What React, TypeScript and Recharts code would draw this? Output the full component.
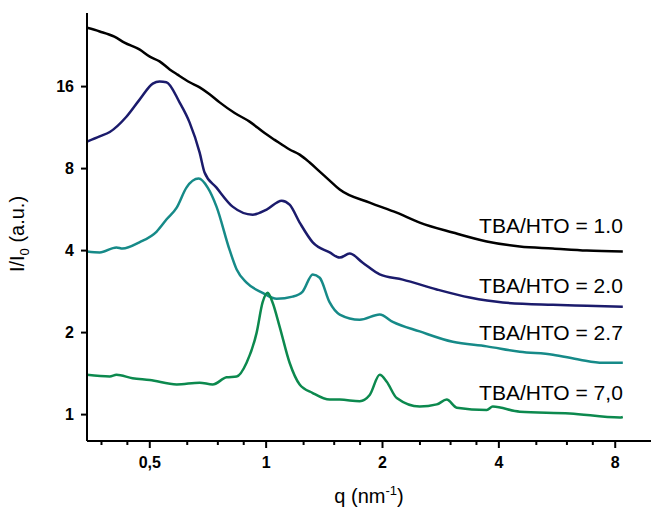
import { LineChart, Line, XAxis, YAxis, ReferenceDot } from 'recharts';

// SAXS curves, log2 / log2 axes
const seriesNames = ['TBA/HTO = 1.0', 'TBA/HTO = 2.0', 'TBA/HTO = 2.7', 'TBA/HTO = 7,0'];
const seriesColors = ['#000000', '#1b1b6c', '#168a88', '#0c894e'];

const q10 = [0.344, 0.371, 0.405, 0.43, 0.47, 0.5, 0.53, 0.563, 0.59, 0.634, 0.673, 0.714, 0.758, 0.829, 0.906, 0.991, 1.052, 1.15, 1.221, 1.296, 1.376, 1.46, 1.55, 1.853, 2.177, 2.496, 3.039, 3.722, 4.532, 5.517, 6.756, 8.37];
const i10 = [26.3, 25.5, 24.4, 23.2, 21.9, 20.6, 19.8, 18.5, 17.7, 16.6, 15.9, 15.0, 14.0, 12.8, 11.9, 10.8, 10.2, 9.4, 9.0, 8.42, 7.8, 7.23, 6.7, 6.0, 5.51, 5.07, 4.66, 4.32, 4.14, 4.07, 4.0, 3.97];

const q20 = [0.344, 0.371, 0.394, 0.435, 0.47, 0.509, 0.53, 0.552, 0.597, 0.634, 0.673, 0.693, 0.744, 0.819, 0.923, 1.003, 1.097, 1.15, 1.221, 1.32, 1.46, 1.55, 1.645, 1.778, 1.967, 2.256, 2.763, 3.363, 4.095, 5.517, 6.756, 8.37];
const i20 = [10.05, 10.5, 10.9, 12.4, 14.3, 16.4, 16.7, 16.6, 14.0, 11.8, 9.16, 7.74, 6.81, 5.8, 5.42, 5.66, 6.1, 5.9, 5.07, 4.29, 3.94, 3.77, 3.9, 3.61, 3.27, 3.13, 2.88, 2.69, 2.58, 2.53, 2.51, 2.49];

const q27 = [0.344, 0.371, 0.41, 0.425, 0.47, 0.521, 0.552, 0.587, 0.622, 0.669, 0.706, 0.744, 0.804, 0.839, 0.89, 0.979, 1.065, 1.171, 1.243, 1.32, 1.376, 1.46, 1.55, 1.746, 1.967, 2.126, 2.496, 3.039, 3.722, 4.532, 5.517, 6.48, 7.43, 8.37];
const i27 = [3.97, 3.94, 4.11, 4.07, 4.29, 4.7, 5.2, 5.75, 6.81, 7.35, 6.81, 5.8, 4.03, 3.41, 3.05, 2.8, 2.66, 2.71, 2.83, 3.27, 3.18, 2.58, 2.33, 2.23, 2.33, 2.19, 2.02, 1.85, 1.78, 1.7, 1.66, 1.59, 1.55, 1.55];

const q70 = [0.344, 0.394, 0.41, 0.451, 0.5, 0.587, 0.673, 0.727, 0.79, 0.839, 0.89, 0.945, 0.979, 1.009, 1.039, 1.084, 1.15, 1.221, 1.32, 1.46, 1.55, 1.746, 1.853, 1.967, 2.051, 2.177, 2.496, 2.763, 2.932, 3.112, 3.722, 3.858, 4.532, 6.105, 8.22, 8.37];
const i70 = [1.4, 1.38, 1.4, 1.36, 1.34, 1.29, 1.31, 1.29, 1.37, 1.38, 1.55, 2.0, 2.58, 2.8, 2.58, 2.1, 1.55, 1.29, 1.2, 1.135, 1.135, 1.12, 1.18, 1.4, 1.32, 1.15, 1.07, 1.09, 1.135, 1.06, 1.04, 1.07, 1.025, 1.01, 0.975, 0.98];

const xMajorTicks = [0.5, 1, 2, 4, 8];
const xMinorTicks = [0.375, 0.4375, 0.625, 0.75, 0.875, 1.25, 1.5, 1.75, 2.5, 3, 3.5, 5, 6, 7];
const yTicks = [1, 2, 4, 8, 16];

const toPoints = (q: number[], i: number[]) => q.map((x, k) => ({ q: x, i: i[k] }));
const series = [toPoints(q10, i10), toPoints(q20, i20), toPoints(q27, i27), toPoints(q70, i70)];

const fontFamily = '"Liberation Sans", Arial, sans-serif';

const XTick = (props: any) => {
  const { x, y, payload } = props;
  const major = xMajorTicks.includes(payload.value);
  return (
    <g>
      <line x1={x} x2={x} y1={y} y2={y + (major ? 7 : 4)} stroke="#000" strokeWidth={2} />
      {major && (
        <text x={x} y={y + 27} textAnchor="middle" fontSize={16} fontWeight="bold" fill="#000">
          {String(payload.value).replace('.', ',')}
        </text>
      )}
    </g>
  );
};

const YTitle = ({ viewBox }: any) => {
  const cx = viewBox.x + 24;
  const cy = viewBox.y + viewBox.height / 2 + 7;
  return (
    <text x={cx} y={cy} transform={`rotate(-90 ${cx} ${cy})`} textAnchor="middle" fontSize={20} fill="#000">
      I/I<tspan dy={5} fontSize={13}>0</tspan>
      <tspan dy={-5}> (a.u.)</tspan>
    </text>
  );
};

const XTitle = ({ viewBox }: any) => (
  <text x={viewBox.x + viewBox.width / 2} y={viewBox.y + 62} textAnchor="middle" fontSize={20} fill="#000">
    q (nm<tspan dy={-8} fontSize={13}>-1</tspan>
    <tspan dy={8}>)</tspan>
  </text>
);

const EndLabel = ({ viewBox, text }: any) => (
  <text x={viewBox.x} y={viewBox.y} textAnchor="end" dominantBaseline="central" fontSize={21} fill="#000">
    {text}
  </text>
);

export default function App() {
  const labelQ = 8.37;
  const labelI = [4.94, 2.98, 2.0, 1.21];

  return (
    <div style={{ position: 'absolute', left: 0, top: 0, background: '#fff', fontFamily }}>
      <LineChart width={651} height={510} margin={{ top: 13, right: 0, left: 0, bottom: 0 }}>
        <XAxis
          dataKey="q"
          type="number"
          scale="log"
          domain={[0.344, 9.9]}
          allowDataOverflow
          ticks={[...xMajorTicks, ...xMinorTicks].sort((a, b) => a - b)}
          interval={0}
          tickSize={0}
          tickMargin={0}
          tickLine={false}
          tick={<XTick />}
          axisLine={{ stroke: '#000', strokeWidth: 2 }}
          height={69}
          label={(p: any) => <XTitle {...p} />}
        />
        <YAxis
          type="number"
          scale="log"
          domain={[0.8, 29.8]}
          allowDataOverflow
          ticks={yTicks}
          interval={0}
          tickSize={6}
          tickMargin={7}
          tickLine={{ stroke: '#000', strokeWidth: 2 }}
          tick={{ fill: '#000', fontSize: 16, fontWeight: 'bold' }}
          axisLine={{ stroke: '#000', strokeWidth: 2 }}
          width={87}
          label={(p: any) => <YTitle {...p} />}
        />
        {series.map((data, k) => (
          <Line
            key={seriesNames[k]}
            data={data}
            dataKey="i"
            type="monotone"
            stroke={seriesColors[k]}
            strokeWidth={2.5}
            dot={false}
            isAnimationActive={false}
          />
        ))}
        {seriesNames.map((name, k) => (
          <ReferenceDot
            key={name}
            x={labelQ}
            y={labelI[k]}
            r={0}
            fill="none"
            stroke="none"
            label={(p: any) => <EndLabel {...p} text={name} />}
          />
        ))}
      </LineChart>
    </div>
  );
}
